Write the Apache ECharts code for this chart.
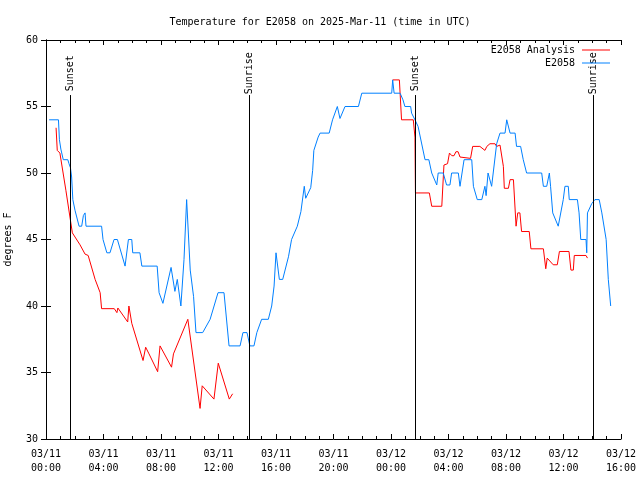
<!DOCTYPE html>
<html><head><meta charset="utf-8">
<script src="https://cdn.jsdelivr.net/npm/echarts@6/dist/echarts.min.js"></script>
<style>html,body{margin:0;padding:0;background:#fff}#c{width:640px;height:480px}</style>
</head><body><div id="c"></div>
<script>
const titleText = "Temperature for E2058 on 2025-Mar-11 (time in UTC)";
const xTickLabels = ["03/11\n00:00","03/11\n04:00","03/11\n08:00","03/11\n12:00","03/11\n16:00","03/11\n20:00","03/12\n00:00","03/12\n04:00","03/12\n08:00","03/12\n12:00","03/12\n16:00"];
const yTicks = [30,35,40,45,50,55,60];

const obsTimes = ["03/11 00:13","03/11 00:52","03/11 00:56","03/11 01:02","03/11 01:12","03/11 01:31","03/11 01:36","03/11 01:42","03/11 01:47","03/11 01:52","03/11 02:01","03/11 02:18","03/11 02:29","03/11 02:36","03/11 02:43","03/11 02:47","03/11 03:52","03/11 03:58","03/11 04:14","03/11 04:27","03/11 04:44","03/11 04:58","03/11 05:30","03/11 05:44","03/11 05:58","03/11 06:02","03/11 06:32","03/11 06:40","03/11 07:44","03/11 07:52","03/11 08:08","03/11 08:42","03/11 08:58","03/11 09:08","03/11 09:23","03/11 09:36","03/11 09:47","03/11 10:02","03/11 10:16","03/11 10:26","03/11 10:54","03/11 11:25","03/11 11:58","03/11 12:23","03/11 12:44","03/11 13:30","03/11 13:42","03/11 13:59","03/11 14:11","03/11 14:28","03/11 14:40","03/11 15:00","03/11 15:28","03/11 15:42","03/11 15:52","03/11 16:00","03/11 16:14","03/11 16:28","03/11 16:52","03/11 17:05","03/11 17:29","03/11 17:44","03/11 17:58","03/11 18:04","03/11 18:25","03/11 18:33","03/11 18:38","03/11 18:56","03/11 19:04","03/11 19:42","03/11 19:56","03/11 20:16","03/11 20:27","03/11 20:48","03/11 21:44","03/11 21:58","03/12 00:03","03/12 00:07","03/12 00:13","03/12 00:38","03/12 00:50","03/12 00:58","03/12 01:22","03/12 01:26","03/12 01:40","03/12 01:47","03/12 01:53","03/12 02:22","03/12 02:38","03/12 02:50","03/12 03:11","03/12 03:17","03/12 03:38","03/12 03:52","03/12 04:06","03/12 04:13","03/12 04:41","03/12 04:48","03/12 05:05","03/12 05:37","03/12 05:44","03/12 06:00","03/12 06:19","03/12 06:32","03/12 06:37","03/12 06:45","03/12 06:53","03/12 07:00","03/12 07:21","03/12 07:35","03/12 07:56","03/12 08:03","03/12 08:10","03/12 08:17","03/12 08:38","03/12 08:44","03/12 09:01","03/12 09:12","03/12 09:19","03/12 09:26","03/12 10:29","03/12 10:36","03/12 10:50","03/12 11:01","03/12 11:06","03/12 11:15","03/12 11:38","03/12 11:59","03/12 12:06","03/12 12:20","03/12 12:24","03/12 12:58","03/12 13:05","03/12 13:12","03/12 13:34","03/12 13:37","03/12 13:40","03/12 13:58","03/12 14:11","03/12 14:29","03/12 14:40","03/12 14:46","03/12 14:58","03/12 15:07","03/12 15:17"];
const obsValues = [54,54,52.5,51.8,51,51,50.7,50.4,49.7,48,47.2,46,46,46.8,47,46,46,45,44,44,45,45,43,45,45,44,44,43,43,41,40.2,42.9,41.1,42,40,43.5,48,42.7,40.7,38,38,39,41,41,37,37,38,38,37,37,38,39,39,40,41.5,44,42,42,43.7,45,46,47.1,49,48.1,48.9,50.2,51.7,52.7,53,53,54,55,54.1,55,55,56,56,57,56,56,55.5,55,55,54.5,54,54,53.5,51,51,50,49.1,50,50,49.1,49.1,50,50,49,51,51,49,48,48,49,48.3,50,50,49,52.2,53,53,54,54,53,53,52,52,51,51,50,50,49,49,50,49,47,46,48,49,49,48,48,47,45,45,44,47,47.7,48,48,47,47,45,42,40];

const anaTimes = ["03/11 00:42","03/11 00:47","03/11 00:58","03/11 01:23","03/11 01:50","03/11 02:22","03/11 02:43","03/11 02:56","03/11 03:25","03/11 03:46","03/11 03:52","03/11 04:45","03/11 04:52","03/11 04:56","03/11 05:00","03/11 05:41","03/11 05:46","03/11 05:53","03/11 05:58","03/11 06:45","03/11 06:56","03/11 07:10","03/11 07:46","03/11 07:56","03/11 08:44","03/11 08:52","03/11 09:52","03/11 10:43","03/11 10:52","03/11 11:41","03/11 11:59","03/11 12:45","03/11 12:59","03/11 18:00","03/12 00:07","03/12 00:35","03/12 00:38","03/12 00:44","03/12 01:33","03/12 01:40","03/12 01:42","03/12 02:40","03/12 02:50","03/12 03:32","03/12 03:41","03/12 03:56","03/12 04:04","03/12 04:14","03/12 04:23","03/12 04:31","03/12 04:40","03/12 04:48","03/12 04:55","03/12 05:32","03/12 05:41","03/12 06:11","03/12 06:32","03/12 06:40","03/12 06:53","03/12 07:14","03/12 07:21","03/12 07:35","03/12 07:42","03/12 07:49","03/12 07:53","03/12 08:10","03/12 08:17","03/12 08:31","03/12 08:42","03/12 08:49","03/12 08:58","03/12 09:05","03/12 09:37","03/12 09:44","03/12 10:36","03/12 10:46","03/12 10:52","03/12 11:17","03/12 11:34","03/12 11:43","03/12 12:23","03/12 12:31","03/12 12:41","03/12 12:45","03/12 13:34","03/12 13:40"];
const anaValues = [53.4,51.7,51.5,48.7,45.5,44.6,43.9,43.8,42,41,39.8,39.8,39.85,39.5,39.85,38.8,40,40,38.7,35.9,36.9,36.4,35.06,37,35.4,36.4,39,32.3,34,33,35.7,33,33.4,null,57,57,56,54,54,52.7,48.5,48.5,47.5,47.5,50.6,50.7,51.5,51.3,51.3,51.6,51.6,51.2,51.1,51.1,52,52,51.7,52,52.2,52.2,52,52.1,52.1,50.5,48.85,48.85,49.5,49.5,46,47,47,45.6,45.6,44.3,44.3,42.8,43.6,43.1,43.1,44.1,44.1,42.7,42.7,43.8,43.8,43.6];

const eventNames = ["Sunset","Sunrise","Sunset","Sunrise"];
const eventTimes = ["03/11 01:42","03/11 14:08","03/12 01:41","03/12 14:04"];
const eventLineTop = 55.86;
const eventLabelCenter = 57.5;

function toHours(s){
  const parts = s.split(' ');
  const day = parseInt(parts[0].split('/')[1], 10);
  const hm = parts[1].split(':').map(Number);
  return (day - 11) * 24 + hm[0] + hm[1] / 60;
}
const FONT = 'DejaVu Sans Mono';
const obsData = obsTimes.map((t, i) => [toHours(t), obsValues[i]]);
const anaData = anaTimes.map((t, i) => [toHours(t), anaValues[i] === null ? '-' : anaValues[i]]);

const markData = eventTimes.map(t => {
  const h = toHours(t);
  return [{coord: [h, 30]}, {coord: [h, eventLineTop]}];
});
const eventLabelData = eventTimes.map(t => [toHours(t), eventLabelCenter]);

const chart = echarts.init(document.getElementById('c'), null, {renderer: 'canvas'});
const axisCommon = {
  axisLine: {show: true, lineStyle: {color: '#000', width: 1}},
  splitLine: {show: false}
};
chart.setOption({
  animation: false,
  backgroundColor: '#fff',
  textStyle: {fontFamily: FONT},
  title: {text: titleText, left: 'center', top: 12,
    textStyle: {fontFamily: FONT, fontSize: 10, fontWeight: 'normal', color: '#000'}},
  legend: [
    {data: ['E2058 Analysis'], right: 30, top: 45, align: 'right', icon: 'rect', itemWidth: 28, itemHeight: 1, padding: 0, itemGap: 0,
     textStyle: {fontFamily: FONT, fontSize: 10, color: '#000', padding: [0, 2, 0, 0]}},
    {data: ['E2058'], right: 30, top: 58, align: 'right', icon: 'rect', itemWidth: 28, itemHeight: 1, padding: 0, itemGap: 0,
     textStyle: {fontFamily: FONT, fontSize: 10, color: '#000', padding: [0, 2, 0, 0]}}
  ],
  grid: {left: 46, top: 40, width: 575, height: 399, containLabel: false, outerBoundsMode: 'none'},
  xAxis: [
    Object.assign({type: 'value', min: 0, max: 40, interval: 4, position: 'bottom',
      axisTick: {show: true, inside: true, length: 5, lineStyle: {color: '#000'}},
      minorTick: {show: true, splitNumber: 4, length: 3, lineStyle: {color: '#000'}},
      axisLabel: {show: true, margin: 8, fontFamily: FONT, fontSize: 10, lineHeight: 14, color: '#000',
        formatter: v => xTickLabels[Math.round(v / 4)]}}, axisCommon),
    Object.assign({type: 'value', min: 0, max: 40, interval: 4, position: 'top',
      axisTick: {show: true, inside: true, length: 5, lineStyle: {color: '#000'}},
      minorTick: {show: true, splitNumber: 4, length: 3, lineStyle: {color: '#000'}},
      axisLabel: {show: false}}, axisCommon)
  ],
  yAxis: [
    Object.assign({type: 'value', min: yTicks[0], max: yTicks[yTicks.length - 1], interval: 5, position: 'left',
      name: 'degrees F', nameLocation: 'middle', nameRotate: 90, nameGap: 33,
      nameTextStyle: {fontFamily: FONT, fontSize: 10, color: '#000'},
      axisTick: {show: true, inside: true, length: 5, lineStyle: {color: '#000'}},
      axisLabel: {show: true, margin: 8, fontFamily: FONT, fontSize: 10, color: '#000'}}, axisCommon),
    Object.assign({type: 'value', min: yTicks[0], max: yTicks[yTicks.length - 1], interval: 5, position: 'right',
      axisTick: {show: true, inside: true, length: 5, lineStyle: {color: '#000'}},
      axisLabel: {show: false}}, axisCommon)
  ],
  series: [
    {name: 'events', type: 'scatter', data: eventLabelData, symbolSize: 1, silent: true,
      itemStyle: {color: 'rgba(0,0,0,0)', opacity: 1},
      label: {show: true, position: 'inside', rotate: 90, color: '#000', opacity: 1, fontFamily: FONT, fontSize: 10,
        formatter: p => eventNames[p.dataIndex]}},
    {name: 'E2058 Analysis', type: 'line', data: anaData, showSymbol: false, symbol: 'none',
      connectNulls: false, lineStyle: {color: '#ff0000', width: 1}, itemStyle: {color: '#ff0000'},
      markLine: {silent: true, symbol: ['none', 'none'], animation: false,
        label: {show: false},
        lineStyle: {color: '#000', width: 1, type: 'solid'},
        data: markData}},
    {name: 'E2058', type: 'line', data: obsData, showSymbol: false, symbol: 'none',
      lineStyle: {color: '#0080ff', width: 1}, itemStyle: {color: '#0080ff'}}
  ]
});
</script></body></html>
